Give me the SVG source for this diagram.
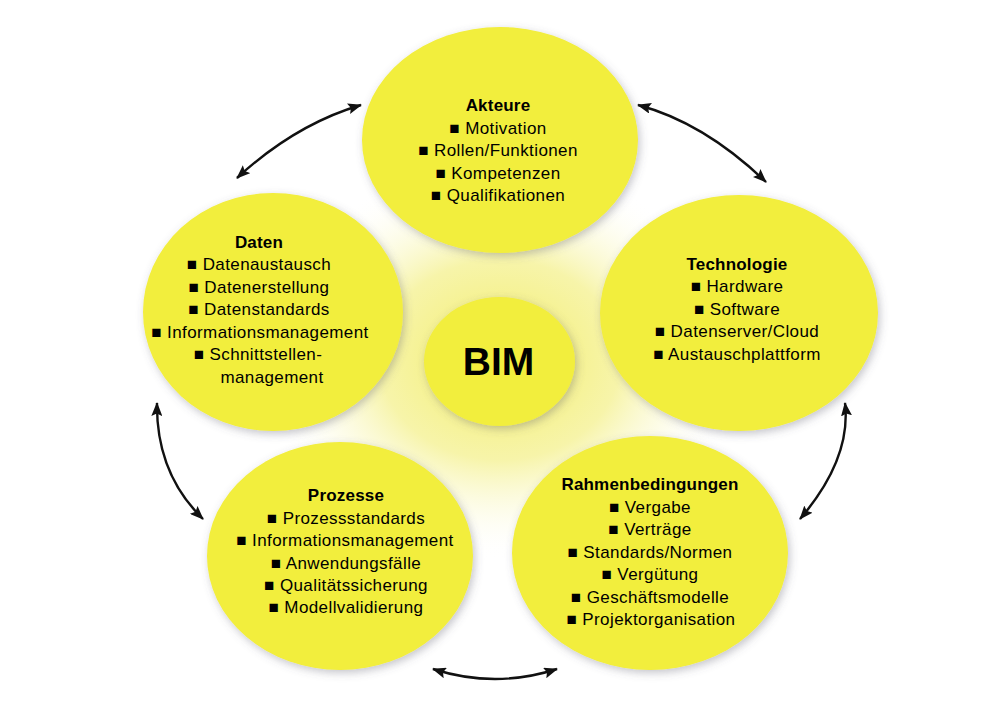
<svg xmlns="http://www.w3.org/2000/svg" width="1000" height="722" viewBox="0 0 1000 722">
  <defs>
    <style>
      .bubble { fill: #F2EE3C; filter: url(#shadow); }
      .t { font-family: "Liberation Sans", Arial, sans-serif; font-size: 17px; fill: #000; text-anchor: middle; letter-spacing: 0.4px; }
      .h { font-weight: bold; letter-spacing: 0.2px; }
      .bim { font-family: "Liberation Sans", Arial, sans-serif; font-size: 39px; font-weight: bold; fill: #000; text-anchor: middle; }
      .conn { fill: none; stroke: #111; stroke-width: 2.4; marker-start: url(#arrow); marker-end: url(#arrow); }
    </style>
    <filter id="shadow" x="-20%" y="-20%" width="140%" height="140%">
      <feDropShadow dx="2" dy="3" stdDeviation="4" flood-color="#5a5a6a" flood-opacity="0.35"/>
    </filter>
    <radialGradient id="glow" cx="0.5" cy="0.5" r="0.5">
      <stop offset="0" stop-color="#F3EE6A" stop-opacity="1"/>
      <stop offset="0.5" stop-color="#F6F3A0" stop-opacity="0.9"/>
      <stop offset="1" stop-color="#FFFFFF" stop-opacity="0"/>
    </radialGradient>
    <marker id="arrow" viewBox="0 0 14 11" refX="13" refY="5.5" markerWidth="14" markerHeight="11" markerUnits="userSpaceOnUse" orient="auto-start-reverse">
      <path d="M0,0 L14,5.5 L0,11 L2.5,5.5 z" fill="#111"/>
    </marker>
  </defs>
  <rect width="1000" height="722" fill="#FFFFFF"/>
  <ellipse cx="500" cy="360" rx="240" ry="200" fill="url(#glow)"/>

  <g id="connectors">
    <path class="conn" d="M237,178 Q295,124.5 361,105"/>
    <path class="conn" d="M638,105 Q704,122.5 766,182"/>
    <path class="conn" d="M845,403 Q851.5,459 800,519"/>
    <path class="conn" d="M433,669 Q495,689 557,669"/>
    <path class="conn" d="M157,403 Q156,473 203,519"/>
  </g>

  <g id="akteure">
    <ellipse class="bubble" cx="500" cy="140" rx="138" ry="113"/>
    <text class="t h" x="498" y="111">Akteure</text>
    <text class="t" x="498" y="133.5">■ Motivation</text>
    <text class="t" x="498" y="156">■ Rollen/Funktionen</text>
    <text class="t" x="498" y="178.5">■ Kompetenzen</text>
    <text class="t" x="498" y="201">■ Qualifikationen</text>
  </g>

  <g id="daten">
    <ellipse class="bubble" cx="273" cy="312" rx="130" ry="119"/>
    <text class="t h" x="259" y="247.5">Daten</text>
    <text class="t" x="259" y="270">■ Datenaustausch</text>
    <text class="t" x="259" y="292.5">■ Datenerstellung</text>
    <text class="t" x="259" y="315">■ Datenstandards</text>
    <text class="t" x="260" y="337.5">■ Informationsmanagement</text>
    <text class="t" x="258" y="360">■ Schnittstellen-</text>
    <text class="t" x="272" y="382.5">management</text>
  </g>

  <g id="technologie">
    <ellipse class="bubble" cx="739" cy="313" rx="139" ry="118"/>
    <text class="t h" x="737" y="269.5">Technologie</text>
    <text class="t" x="737" y="292">■ Hardware</text>
    <text class="t" x="737" y="314.5">■ Software</text>
    <text class="t" x="737" y="337">■ Datenserver/Cloud</text>
    <text class="t" x="737" y="359.5">■ Austauschplattform</text>
  </g>

  <g id="prozesse">
    <ellipse class="bubble" cx="340" cy="556" rx="133" ry="114"/>
    <text class="t h" x="346" y="501">Prozesse</text>
    <text class="t" x="346" y="523.5">■ Prozessstandards</text>
    <text class="t" x="345" y="546">■ Informationsmanagement</text>
    <text class="t" x="346" y="568.5">■ Anwendungsfälle</text>
    <text class="t" x="346" y="590.5">■ Qualitätssicherung</text>
    <text class="t" x="346" y="613">■ Modellvalidierung</text>
  </g>

  <g id="rahmenbedingungen">
    <ellipse class="bubble" cx="650" cy="553" rx="138" ry="117"/>
    <text class="t h" x="650" y="490">Rahmenbedingungen</text>
    <text class="t" x="650" y="512.5">■ Vergabe</text>
    <text class="t" x="650" y="535">■ Verträge</text>
    <text class="t" x="650" y="557.5">■ Standards/Normen</text>
    <text class="t" x="650" y="580">■ Vergütung</text>
    <text class="t" x="650" y="602.5">■ Geschäftsmodelle</text>
    <text class="t" x="651" y="625">■ Projektorganisation</text>
  </g>

  <g id="bim">
    <ellipse class="bubble" cx="499.5" cy="361.5" rx="75.5" ry="64.5"/>
    <text class="bim" x="498.5" y="375">BIM</text>
  </g>
</svg>
